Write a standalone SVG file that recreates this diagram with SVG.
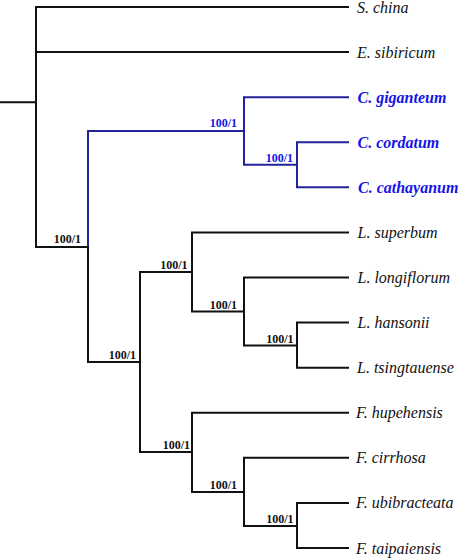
<svg xmlns="http://www.w3.org/2000/svg" width="461" height="560" viewBox="0 0 461 560">
<style>
.e{fill:none;stroke:#111;stroke-width:2;stroke-linecap:square}
.b{fill:none;stroke:#22229a;stroke-width:2;stroke-linecap:square}
text{font-family:'Liberation Serif','DejaVu Serif',serif}
.t{font-style:italic;font-size:16px;fill:#111}
.tb{font-style:italic;font-weight:bold;font-size:16px;fill:#1414e6}
.s{font-weight:bold;font-size:12px;fill:#111;text-anchor:end}
.sb{font-weight:bold;font-size:12px;fill:#1414e6;text-anchor:end}
</style>
<rect width="461" height="560" fill="#fff"/>
<g id="connectors">
<path class="e" d="M1,102.3H36M36,7V247M36,7H348M36,52H348M36,247H88"/>
<path class="b" d="M88,131V247M88,131H244M244,97.2V164.8M244,97.2H348M244,164.8H297M297,142.3V187.3M297,142.3H348M297,187.3H348"/>
<path class="e" d="M88,247V362M88,362H140M140,272V452M140,272H192M192,232.4V311.5M192,232.4H348M192,311.5H244M244,277.5V345.5M244,277.5H348M244,345.5H297M297,322.6V367.7M297,322.6H348M297,367.7H348"/>
<path class="e" d="M140,452H192M192,412.7V492M192,412.7H348M192,492H244M244,457.8V526M244,457.8H348M244,526H297M297,502.9V548M297,502.9H348M297,548H348"/>
</g>
<g id="supports">
<text class="s" x="81" y="243">100/1</text>
<text class="sb" x="237" y="127">100/1</text>
<text class="sb" x="293" y="161.5">100/1</text>
<text class="s" x="187.5" y="268.5">100/1</text>
<text class="s" x="237" y="308.5">100/1</text>
<text class="s" x="293.5" y="343">100/1</text>
<text class="s" x="136" y="359">100/1</text>
<text class="s" x="190" y="449">100/1</text>
<text class="s" x="237" y="489">100/1</text>
<text class="s" x="293.5" y="523">100/1</text>
</g>
<g id="n-schina"><text class="t" x="357" y="12.5">S. china</text></g>
<g id="n-esibiricum"><text class="t" x="357" y="57.6">E. sibiricum</text></g>
<g id="n-cgiganteum"><text class="tb" x="357.5" y="102.7">C. giganteum</text></g>
<g id="n-ccordatum"><text class="tb" x="357.5" y="147.8">C. cordatum</text></g>
<g id="n-ccathayanum"><text class="tb" x="358" y="192.8">C. cathayanum</text></g>
<g id="n-lsuperbum"><text class="t" x="357.5" y="237.9">L. superbum</text></g>
<g id="n-llongiflorum"><text class="t" x="357.5" y="283">L. longiflorum</text></g>
<g id="n-lhansonii"><text class="t" x="357.5" y="328.1">L. hansonii</text></g>
<g id="n-ltsingtauense"><text class="t" x="357" y="373.2">L. tsingtauense</text></g>
<g id="n-fhupehensis"><text class="t" x="356" y="418.2">F. hupehensis</text></g>
<g id="n-fcirrhosa"><text class="t" x="356" y="463.3">F. cirrhosa</text></g>
<g id="n-fubibracteata"><text class="t" x="356" y="508.4">F. ubibracteata</text></g>
<g id="n-ftaipaiensis"><text class="t" x="356" y="553.5">F. taipaiensis</text></g>
</svg>
